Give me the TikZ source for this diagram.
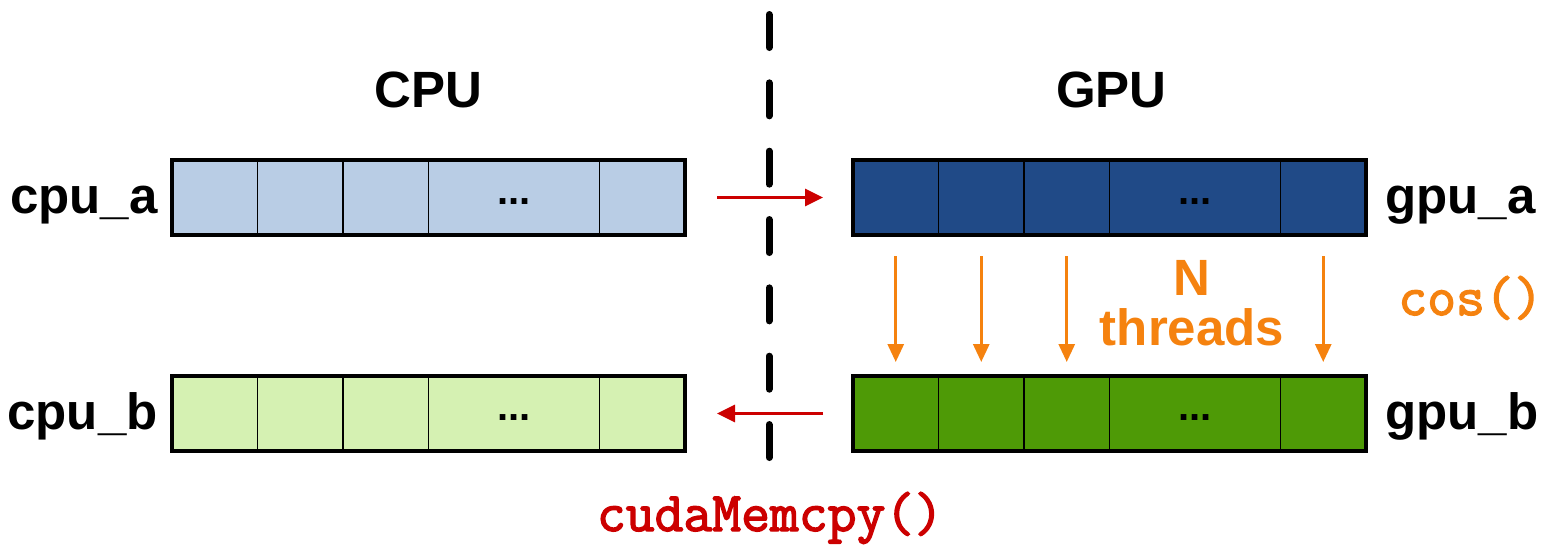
\documentclass[tikz,border=0pt]{standalone}
\usepackage{fontspec}
\setmainfont{Liberation Sans}
\newfontfamily\codefont{Latin Modern Mono}[FakeBold=2.5]
\usetikzlibrary{calc,arrows.meta}
\definecolor{lblue}{RGB}{185,205,229}
\definecolor{dblue}{RGB}{32,74,135}
\definecolor{lgreen}{RGB}{213,241,178}
\definecolor{dgreen}{RGB}{78,154,6}
\definecolor{corange}{RGB}{245,130,15}
\definecolor{cred}{RGB}{204,0,0}
\tikzset{
  arr/.style={draw=black, line width=1.6pt, minimum width=256.5pt, minimum height=37.5pt,
              inner sep=0pt, outer sep=0pt, anchor=north west},
  cellline/.style={draw=black, line width=0.7pt},
  dots/.style={font=\fontsize{20}{22}\selectfont\bfseries, inner sep=0pt, anchor=base},
  lbl/.style={font=\fontsize{25.5}{30}\selectfont\bfseries, inner sep=0pt},
  code/.style={font=\codefont\fontsize{28}{32}\selectfont, inner sep=0pt},
  redarrow/.style={draw=cred, line width=1.6pt, -{Triangle[length=9pt,width=8.5pt]}},
  orarrow/.style={draw=corange, line width=1.5pt, -{Triangle[length=9pt,width=8pt]},
                  shorten <=10.5pt, shorten >=7pt},
  divider/.style={draw=black, line width=3.5pt, line cap=round, dash pattern=on 16.5pt off 17.67pt}
}
\begin{document}
\begin{tikzpicture}[x=0.5pt,y=-0.5pt]
\useasboundingbox (0,0) rectangle (1549,553);

% dashed divider
\coordinate (divtop) at (769,14.5);
\coordinate (divbot) at (769,457.5);
\draw[divider] (divtop) -- (divbot);

% arrays
\node[arr, fill=lblue] (cpua) at (172,160) {};
\node[arr, fill=dblue] (gpua) at (853,160) {};
\node[arr, fill=lgreen] (cpub) at (172,376) {};
\node[arr, fill=dgreen] (gpub) at (853,376) {};

\foreach \nm in {cpua,gpua,cpub,gpub}{
  \foreach \f in {1,2,3,5}{
    \draw[cellline] ($(\nm.north west)!\f/6!(\nm.north east)$) -- ($(\nm.south west)!\f/6!(\nm.south east)$);
  }
  \node[dots] (\nm dots) at ($($(\nm.west)!0.6667!(\nm.east)$)+(0,7)$) {...};
}

% titles
\node[lbl, anchor=base] (cputitle) at ($(cpua.north)+(0,-53)$) {CPU};
\node[lbl, anchor=base] (gputitle) at ($(gpua.north)+(2,-53)$) {GPU};

% array labels
\node[lbl, anchor=base east] (cpualbl) at ($(cpua.west)+(-14,16)$) {cpu\_a};
\node[lbl, anchor=base east] (cpublbl) at ($(cpub.west)+(-14,16)$) {cpu\_b};
\node[lbl, anchor=base west] (gpualbl) at ($(gpua.east)+(19,16)$) {gpu\_a};
\node[lbl, anchor=base west] (gpublbl) at ($(gpub.east)+(19,16)$) {gpu\_b};

% copy arrows
\draw[redarrow, shorten <=16pt, shorten >=15pt, yshift=1pt] (cpua.east) -- (gpua.west);
\draw[redarrow, shorten <=15pt, shorten >=16pt, yshift=2pt] (gpub.west) -- (cpub.east);

% thread arrows
\foreach \f in {1,3,5,11}{
  \draw[orarrow] ($(gpua.south west)!\f/12!(gpua.south east)$) -- ($(gpub.north west)!\f/12!(gpub.north east)$);
}

\node[lbl, text=corange, anchor=south, align=center,
      font=\fontsize{25.5}{25}\selectfont\bfseries] (threadslbl) at (1192,346) {N\\threads};

% code labels
\node[code, text=corange, anchor=base west] (coslbl) at (1398,315) {cos()};
\node[code, text=cred, anchor=base] (memcpylbl) at (770,531) {cudaMemcpy()};
\end{tikzpicture}
\end{document}
